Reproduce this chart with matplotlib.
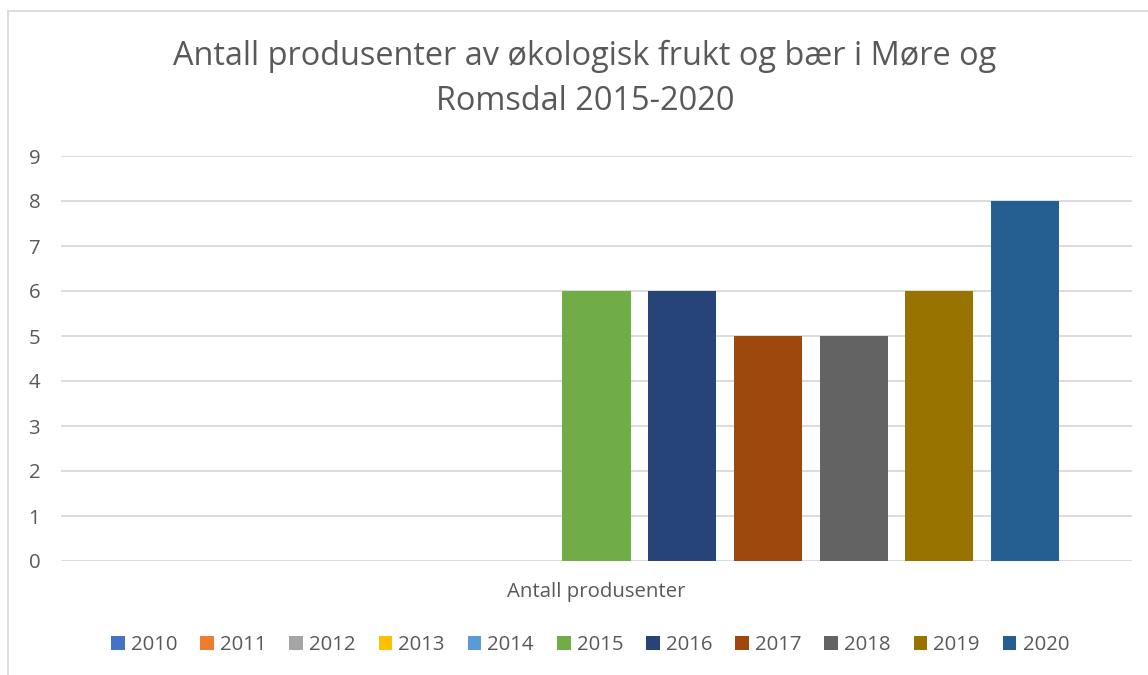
import matplotlib
matplotlib.use("Agg")
import matplotlib.pyplot as plt
from matplotlib.patches import Rectangle

years = ["2010", "2011", "2012", "2013", "2014", "2015", "2016", "2017", "2018", "2019", "2020"]
values = [0, 0, 0, 0, 0, 6, 6, 5, 5, 6, 8]
colors = ["#4472C4", "#ED7D31", "#A5A5A5", "#FFC000", "#5B9BD5", "#70AD47",
          "#264478", "#9E480E", "#636363", "#997300", "#255E91"]
category = "Antall produsenter"
title = "Antall produsenter av økologisk frukt og bær i Møre og\nRomsdal 2015-2020"

plt.rcParams['font.family'] = ['Open Sans', 'DejaVu Sans']
txt = "#595959"

W, H = 1148, 675
fig = plt.figure(figsize=(W / 100, H / 100), dpi=100)
fig.patches.append(Rectangle((8 / W, -0.1), 1.2, 1 - 11 / H + 0.1, transform=fig.transFigure,
                             fill=False, edgecolor="#D9D9D9", linewidth=1.3))

ax = fig.add_axes([61 / W, 1 - 561 / H, (1132 - 61) / W, (561 - 156) / H])
step = 0.08
width = 0.0635
n = len(years)
for i, (y, v, c) in enumerate(zip(years, values, colors)):
    ax.bar((i - (n - 1) / 2) * step, v, width=width, color=c, label=y, zorder=3)

ax.set_xlim(-0.5, 0.5)
ax.set_ylim(0, 9)
ax.set_yticks(range(10))
ax.set_xticks([0])
ax.set_xticklabels([category])
ax.tick_params(axis='both', length=0, colors=txt, labelsize=14.7)
ax.tick_params(axis='y', pad=15)
ax.tick_params(axis='x', pad=15)
ax.grid(axis='y', color="#D9D9D9", linewidth=1.3, zorder=0)
for s in ax.spines.values():
    s.set_visible(False)

fig.text(585 / W, 1 - 79 / H, title, ha='center', va='center', fontsize=23.4,
         color=txt, linespacing=1.45)

handles, labels = ax.get_legend_handles_labels()
fig.legend(handles, labels, loc='center', bbox_to_anchor=(590 / W, 1 - 645 / H), ncol=11,
           frameon=False, fontsize=14.7, labelcolor=txt, handlelength=0.67, handleheight=0.67,
           handletextpad=0.3, columnspacing=1.12)

fig.savefig("out.png", dpi=100, facecolor="white")
